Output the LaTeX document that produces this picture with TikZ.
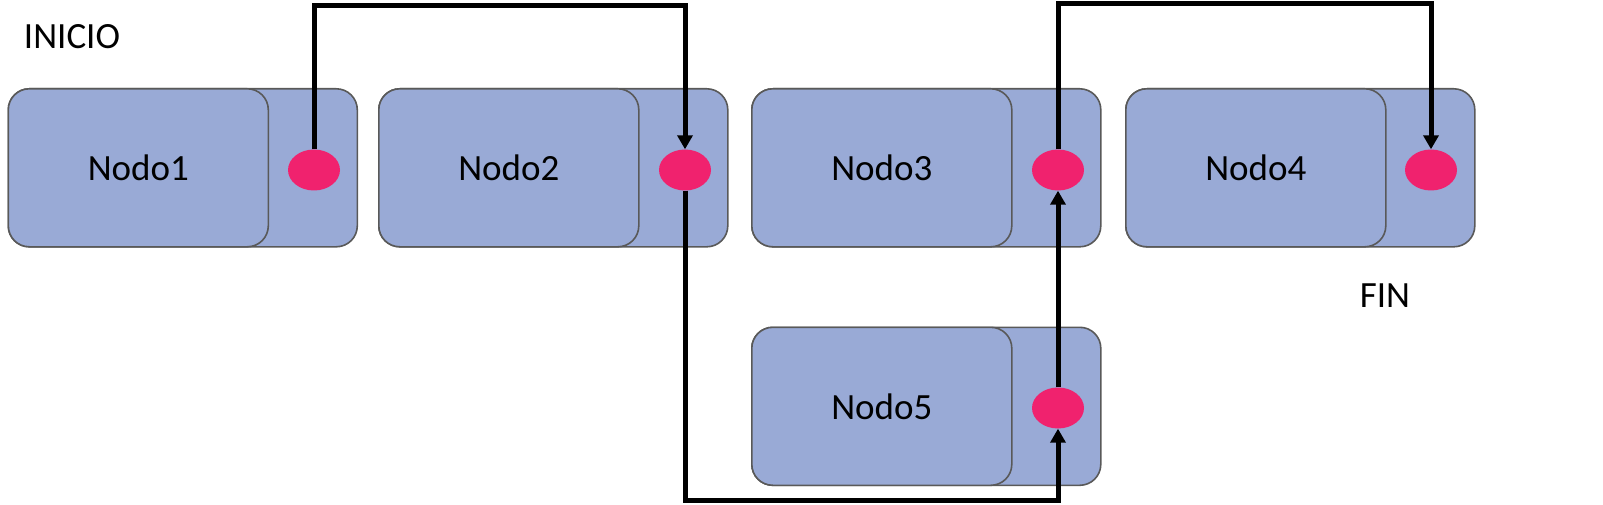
\documentclass[tikz,border=0pt]{standalone}
\usepackage{fontspec}
\setmainfont{Carlito}
\usetikzlibrary{shapes.geometric,arrows.meta}
\definecolor{boxfill}{RGB}{153,170,214}
\definecolor{boxline}{RGB}{89,89,89}
\definecolor{ptr}{RGB}{240,34,110}
\tikzset{
  outerbox/.style={draw=boxline, line width=1.6pt, fill=boxfill, rounded corners=21pt, minimum width=349pt, minimum height=158pt, inner sep=0pt, anchor=north west},
  innerbox/.style={draw=boxline, line width=1.6pt, fill=boxfill, rounded corners=21pt, minimum width=260pt, minimum height=158pt, inner sep=0pt, anchor=north west, font=\fontsize{37}{42}\selectfont},
  ptrdot/.style={ellipse, fill=ptr, minimum width=52pt, minimum height=41pt, inner sep=0pt},
  link/.style={line width=5pt, line join=miter, -{Triangle[width=15pt,length=14pt]}},
  lbl/.style={font=\fontsize{37}{42}\selectfont, inner sep=0pt}
}
\begin{document}
\begin{tikzpicture}[x=1pt,y=-1pt]
\useasboundingbox (0,0) rectangle (1603,505);
% node 1
\node[outerbox] (o1) at (7.5,88) {};
\node[innerbox] (n1) at (7.5,88) {Nodo1};
\node[ptrdot] (p1) at (314,170) {};
% node 2
\node[outerbox] (o2) at (378,88) {};
\node[innerbox] (n2) at (378,88) {Nodo2};
\node[ptrdot] (p2) at (685,170) {};
% node 3
\node[outerbox] (o3) at (751,88) {};
\node[innerbox] (n3) at (751,88) {Nodo3};
\node[ptrdot] (p3) at (1058,170) {};
% node 4
\node[outerbox] (o4) at (1125,88) {};
\node[innerbox] (n4) at (1125,88) {Nodo4};
\node[ptrdot] (p4) at (1431,170) {};
% node 5
\node[outerbox] (o5) at (751,326.5) {};
\node[innerbox] (n5) at (751,326.5) {Nodo5};
\node[ptrdot] (p5) at (1058,408) {};
% labels
\node[lbl] (inicio) at (72,36.5) {INICIO};
\node[lbl] (fin) at (1385,296) {FIN};
% routing coordinates
\coordinate (t1) at (500,5.5);
\coordinate (b1) at (850,500);
\coordinate (t2) at (1200,4);
% connectors
\draw[link] (p1.north) |- (t1) -| (p2.north);
\draw[link] (p2.south) |- (b1) -| (p5.south);
\draw[link] (p5.north) -- (p3.south);
\draw[link] (p3.north) |- (t2) -| (p4.north);
\end{tikzpicture}
\end{document}
